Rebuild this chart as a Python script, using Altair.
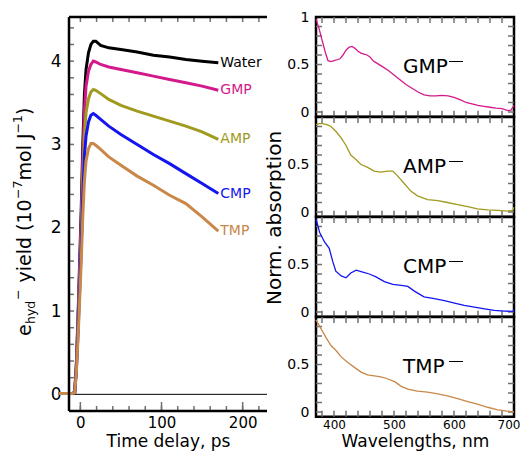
import altair as alt
import pandas as pd

FONT = "DejaVu Sans"

# ---------------- left panel: e_hyd yield vs time ----------------
time_ps = [-27, -10, -7, -5, -3, -1, 1, 3, 5, 7, 10, 13, 16, 19, 25, 35, 50, 70, 90, 110, 130, 150, 170]
water = [0.01, 0.01, 0.02, 0.35, 0.90, 1.55, 2.20, 3.00, 3.60, 3.90, 4.10, 4.20, 4.24, 4.24, 4.19, 4.16, 4.14, 4.11, 4.07, 4.05, 4.02, 4.00, 3.98]
gmp = [0.01, 0.01, 0.02, 0.33, 0.85, 1.46, 2.07, 2.83, 3.40, 3.70, 3.88, 3.96, 4.00, 3.99, 3.96, 3.93, 3.90, 3.86, 3.82, 3.78, 3.74, 3.70, 3.65]
amp = [0.01, 0.01, 0.02, 0.30, 0.78, 1.34, 1.90, 2.60, 3.10, 3.38, 3.55, 3.63, 3.66, 3.65, 3.61, 3.54, 3.47, 3.40, 3.34, 3.28, 3.22, 3.15, 3.06]
cmp_ = [0.01, 0.01, 0.02, 0.28, 0.72, 1.23, 1.75, 2.38, 2.86, 3.10, 3.27, 3.35, 3.37, 3.35, 3.30, 3.22, 3.12, 3.00, 2.88, 2.77, 2.65, 2.53, 2.41]
tmp = [0.01, 0.01, 0.02, 0.25, 0.64, 1.10, 1.57, 2.14, 2.56, 2.80, 2.95, 3.01, 3.01, 2.99, 2.94, 2.85, 2.75, 2.62, 2.51, 2.39, 2.29, 2.13, 1.96]

series_names = ["Water", "GMP", "AMP", "CMP", "TMP"]
series_colors = ["#000000", "#d4198c", "#a09a1e", "#1515f0", "#c98748"]
left_series = [water, gmp, amp, cmp_, tmp]

time_ticks = [0, 20, 40, 60, 80, 100, 120, 140, 160, 180, 200, 220]
time_major = [0, 100, 200]
yield_ticks = [0, 0.2, 0.4, 0.6, 0.8, 1.0, 1.2, 1.4, 1.6, 1.8, 2.0, 2.2, 2.4, 2.6, 2.8, 3.0,
               3.2, 3.4, 3.6, 3.8, 4.0, 4.2, 4.4]
yield_labels = [0, 1, 2, 3, 4]
zero_level = [0]

# ---------------- right panels: normalized absorption spectra ----------------
gmp_wl = [370, 375, 380, 385, 390, 395, 400, 405, 410, 415, 420, 425, 430, 435, 440, 445, 450, 455, 460, 465,
          470, 480, 490, 500, 510, 520, 530, 540, 550, 560, 570, 580, 590, 600, 610, 620, 630, 640, 650, 660,
          670, 680, 690, 695, 700]
gmp_abs = [0.98, 0.88, 0.76, 0.64, 0.54, 0.53, 0.54, 0.55, 0.56, 0.60, 0.65, 0.68, 0.69, 0.67, 0.64, 0.62,
           0.61, 0.60, 0.58, 0.54, 0.52, 0.48, 0.44, 0.39, 0.34, 0.29, 0.25, 0.21, 0.18, 0.17, 0.17, 0.175,
           0.17, 0.155, 0.13, 0.10, 0.085, 0.07, 0.06, 0.05, 0.04, 0.035, 0.015, 0.02, 0.07]

amp_wl = [370, 375, 381, 388, 395, 403, 412, 420, 428, 437, 445, 456, 467, 478, 489, 498, 506, 517, 528,
          539, 556, 573, 589, 606, 623, 639, 656, 673, 689, 698, 700]
amp_abs = [0.92, 0.93, 0.93, 0.92, 0.90, 0.85, 0.78, 0.70, 0.60, 0.55, 0.50, 0.47, 0.43, 0.42, 0.43,
           0.43, 0.38, 0.30, 0.22, 0.17, 0.13, 0.12, 0.10, 0.077, 0.057, 0.033, 0.023, 0.017, 0.01, 0.017, 0.05]

cmp_wl = [370, 376, 384, 392, 398, 403, 412, 420, 428, 437, 448, 459, 470, 484, 498, 512, 523, 534, 550,
          567, 584, 601, 617, 634, 651, 667, 684, 698, 700]
cmp_abs = [0.98, 0.84, 0.74, 0.67, 0.53, 0.43, 0.38, 0.36, 0.41, 0.44, 0.42, 0.40, 0.37, 0.32, 0.29,
           0.28, 0.27, 0.22, 0.16, 0.14, 0.12, 0.093, 0.069, 0.052, 0.034, 0.017, 0.01, 0.007, 0.024]

tmp_wl = [370, 378, 387, 395, 403, 412, 423, 434, 445, 456, 467, 478, 489, 501, 512, 523, 539, 556, 573,
          589, 606, 623, 639, 656, 673, 689, 700]
tmp_abs = [0.97, 0.88, 0.78, 0.70, 0.65, 0.58, 0.52, 0.47, 0.42, 0.39, 0.38, 0.37, 0.35, 0.32, 0.27,
           0.24, 0.22, 0.21, 0.19, 0.17, 0.14, 0.11, 0.083, 0.05, 0.023, 0.01, 0.0]

spec_names = ["GMP", "AMP", "CMP", "TMP"]
spec_wl = [gmp_wl, amp_wl, cmp_wl, tmp_wl]
spec_abs = [gmp_abs, amp_abs, cmp_abs, tmp_abs]
spec_colors = ["#d4198c", "#a09a1e", "#1515f0", "#c98748"]

wl_ticks = [380, 400, 420, 440, 460, 480, 500, 520, 540, 560, 580, 600, 620, 640, 660, 680]
wl_labels = [400, 500, 600, 700]
abs_ticks = [0, 0.1, 0.2, 0.3, 0.4, 0.5, 0.6, 0.7, 0.8, 0.9]

one = pd.DataFrame({"k": [0]})
TICK = "#707070"

# ---------------- build left panel ----------------
WL, HL = 198, 394
xs_l = alt.Scale(domain=[-14, 230], nice=False, zero=False)
ys_l = alt.Scale(domain=[-0.2, 4.53], nice=False, zero=False)
ax_xl = alt.Axis(values=time_major, ticks=False, domain=False, grid=False, labelFontSize=15,
                 labelPadding=4, labelFlush=False, labelColor="black", title="Time delay, ps",
                 titleFontSize=17, titleFontWeight="normal", titleColor="black", titlePadding=3)
ax_yl = alt.Axis(values=yield_labels, ticks=False, domain=False, grid=False, labelFontSize=17,
                 labelPadding=8, labelColor="black", title="")


def XL(f):
    return alt.X(f, type="quantitative", scale=xs_l, axis=ax_xl)


def YL(f):
    return alt.Y(f, type="quantitative", scale=ys_l, axis=ax_yl)


layers = []
tdf = pd.DataFrame({"tick": time_ticks})
major = pd.DataFrame({"tick": time_major})
ydf = pd.DataFrame({"tick": yield_ticks})
layers.append(alt.Chart(tdf).mark_rule(color=TICK, strokeWidth=1.5).encode(
    x=XL("tick"), y=alt.value(0), y2=alt.value(5)))
layers.append(alt.Chart(tdf).mark_rule(color=TICK, strokeWidth=1.5).encode(
    x=XL("tick"), y=alt.value(HL), y2=alt.value(HL - 5)))
layers.append(alt.Chart(major).mark_rule(color=TICK, strokeWidth=1.5).encode(
    x=XL("tick"), y=alt.value(HL), y2=alt.value(HL - 9)))
layers.append(alt.Chart(ydf).mark_rule(color=TICK, strokeWidth=1.5).encode(
    y=YL("tick"), x=alt.value(0), x2=alt.value(5)))
layers.append(alt.Chart(pd.DataFrame({"z": zero_level})).mark_rule(color="black", strokeWidth=1).encode(
    y=YL("z")))
for name, vals, col in zip(series_names, left_series, series_colors):
    df = pd.DataFrame({"t": time_ps, "v": vals})
    layers.append(alt.Chart(df).mark_line(color=col, strokeWidth=3).encode(x=XL("t"), y=YL("v")))
lab = pd.DataFrame({"t": [time_ps[-1]] * 5, "v": [s[-1] for s in left_series], "name": series_names})
layers.append(alt.Chart(lab).mark_text(align="left", baseline="middle", dx=2, fontSize=14).encode(
    x=XL("t"), y=YL("v"), text="name:N",
    color=alt.Color("name:N", scale=alt.Scale(domain=series_names, range=series_colors), legend=None)))
# frame (left, top, bottom)
layers.append(alt.Chart(one).mark_rule(color="black", strokeWidth=2.5).encode(x=alt.value(0)))
layers.append(alt.Chart(one).mark_rule(color="black", strokeWidth=2.5).encode(y=alt.value(0)))
layers.append(alt.Chart(one).mark_rule(color="black", strokeWidth=2.5).encode(y=alt.value(HL)))

# y-axis title with sub/superscripts, built from pieces (rotated, reading upward)
BASE = -38
SUB = BASE + 4
SUP = BASE - 9
pieces = [
    ("e", 19, BASE, 319),
    ("hyd", 12.5, SUB, 307),
    ("\u2212", 12.5, SUP, 283),
    ("yield (10", 19, BASE, 265.5),
    ("\u22127", 12.5, SUP, 182),
    ("mol J", 19, BASE, 163.5),
    ("\u22121", 12.5, SUP, 116.5),
    (")", 19, BASE, 98),
]
for txt, size, xx, yy in pieces:
    layers.append(alt.Chart(one).mark_text(text=txt, fontSize=size, angle=270, align="left",
                                           baseline="alphabetic", color="black").encode(
        x=alt.value(xx), y=alt.value(yy)))
# shared y-axis title of the right column
layers.append(alt.Chart(one).mark_text(text="Norm. absorption", fontSize=20, angle=270, align="center",
                                       baseline="middle", color="black").encode(
    x=alt.value(206), y=alt.value(201)))

left = alt.layer(*layers).properties(width=WL, height=HL,
                                     view=alt.ViewBackground(stroke="transparent"))

# ---------------- build right panels ----------------
WR, HR = 198, 99.75


def panel(name, wl, vals, col, top, bottom):
    xs = alt.Scale(domain=[370, 700], nice=False, zero=False)
    ys = alt.Scale(domain=[-0.05, 1.0], nice=False, zero=False)
    if bottom:
        axx = alt.Axis(values=wl_labels, ticks=False, domain=False, grid=False, labelFontSize=12,
                       labelPadding=3, labelFlush=5, labelFlushOffset=6, labelColor="black",
                       title="Wavelengths, nm", titleFontSize=17, titleFontWeight="normal",
                       titleColor="black", titlePadding=3)
    else:
        axx = None
    axy = alt.Axis(values=[0, 0.5, 1] if top else [0, 0.5], format="~g", ticks=False, domain=False,
                   grid=False, labelFontSize=14, labelPadding=7, labelColor="black", title="")

    def X(f):
        return alt.X(f, type="quantitative", scale=xs, axis=axx)

    def Y(f):
        return alt.Y(f, type="quantitative", scale=ys, axis=axy)

    xt = pd.DataFrame({"tick": wl_ticks})
    yt = pd.DataFrame({"tick": abs_ticks})
    ls = [
        alt.Chart(xt).mark_rule(color=TICK, strokeWidth=1.5).encode(x=X("tick"), y=alt.value(0), y2=alt.value(6)),
        alt.Chart(xt).mark_rule(color=TICK, strokeWidth=1.5).encode(x=X("tick"), y=alt.value(HR), y2=alt.value(HR - 6)),
        alt.Chart(yt).mark_rule(color=TICK, strokeWidth=1.5).encode(y=Y("tick"), x=alt.value(0), x2=alt.value(6)),
        alt.Chart(yt).mark_rule(color=TICK, strokeWidth=1.5).encode(y=Y("tick"), x=alt.value(WR), x2=alt.value(WR - 6)),
        alt.Chart(pd.DataFrame({"wl": wl, "a": vals})).mark_line(color=col, strokeWidth=1.3).encode(
            x=X("wl"), y=Y("a")),
        alt.Chart(one).mark_text(text=name, fontSize=20, align="left", baseline="alphabetic",
                                 color="black").encode(x=alt.value(87), y=alt.value(56)),
        alt.Chart(one).mark_rule(color="black", strokeWidth=1).encode(
            x=alt.value(133), x2=alt.value(147), y=alt.value(44.5)),
    ]
    return alt.layer(*ls).properties(width=WR, height=HR)


panels = [panel(n, w, a, c, i == 0, i == 3)
          for i, (n, w, a, c) in enumerate(zip(spec_names, spec_wl, spec_abs, spec_colors))]
right = alt.vconcat(*panels, spacing=0, bounds="flush").resolve_scale(x="independent", y="independent")

chart = alt.hconcat(left, right, spacing=49, bounds="flush").resolve_scale(
    x="independent", y="independent"
).properties(
    padding={"left": 2, "top": 0, "right": 0, "bottom": 0}
).configure_view(
    stroke="black", strokeWidth=2.5
).configure_axis(
    labelFont=FONT, titleFont=FONT
).configure_text(font=FONT)

chart.save("out.html", embed_options={"renderer": "svg", "actions": False})
